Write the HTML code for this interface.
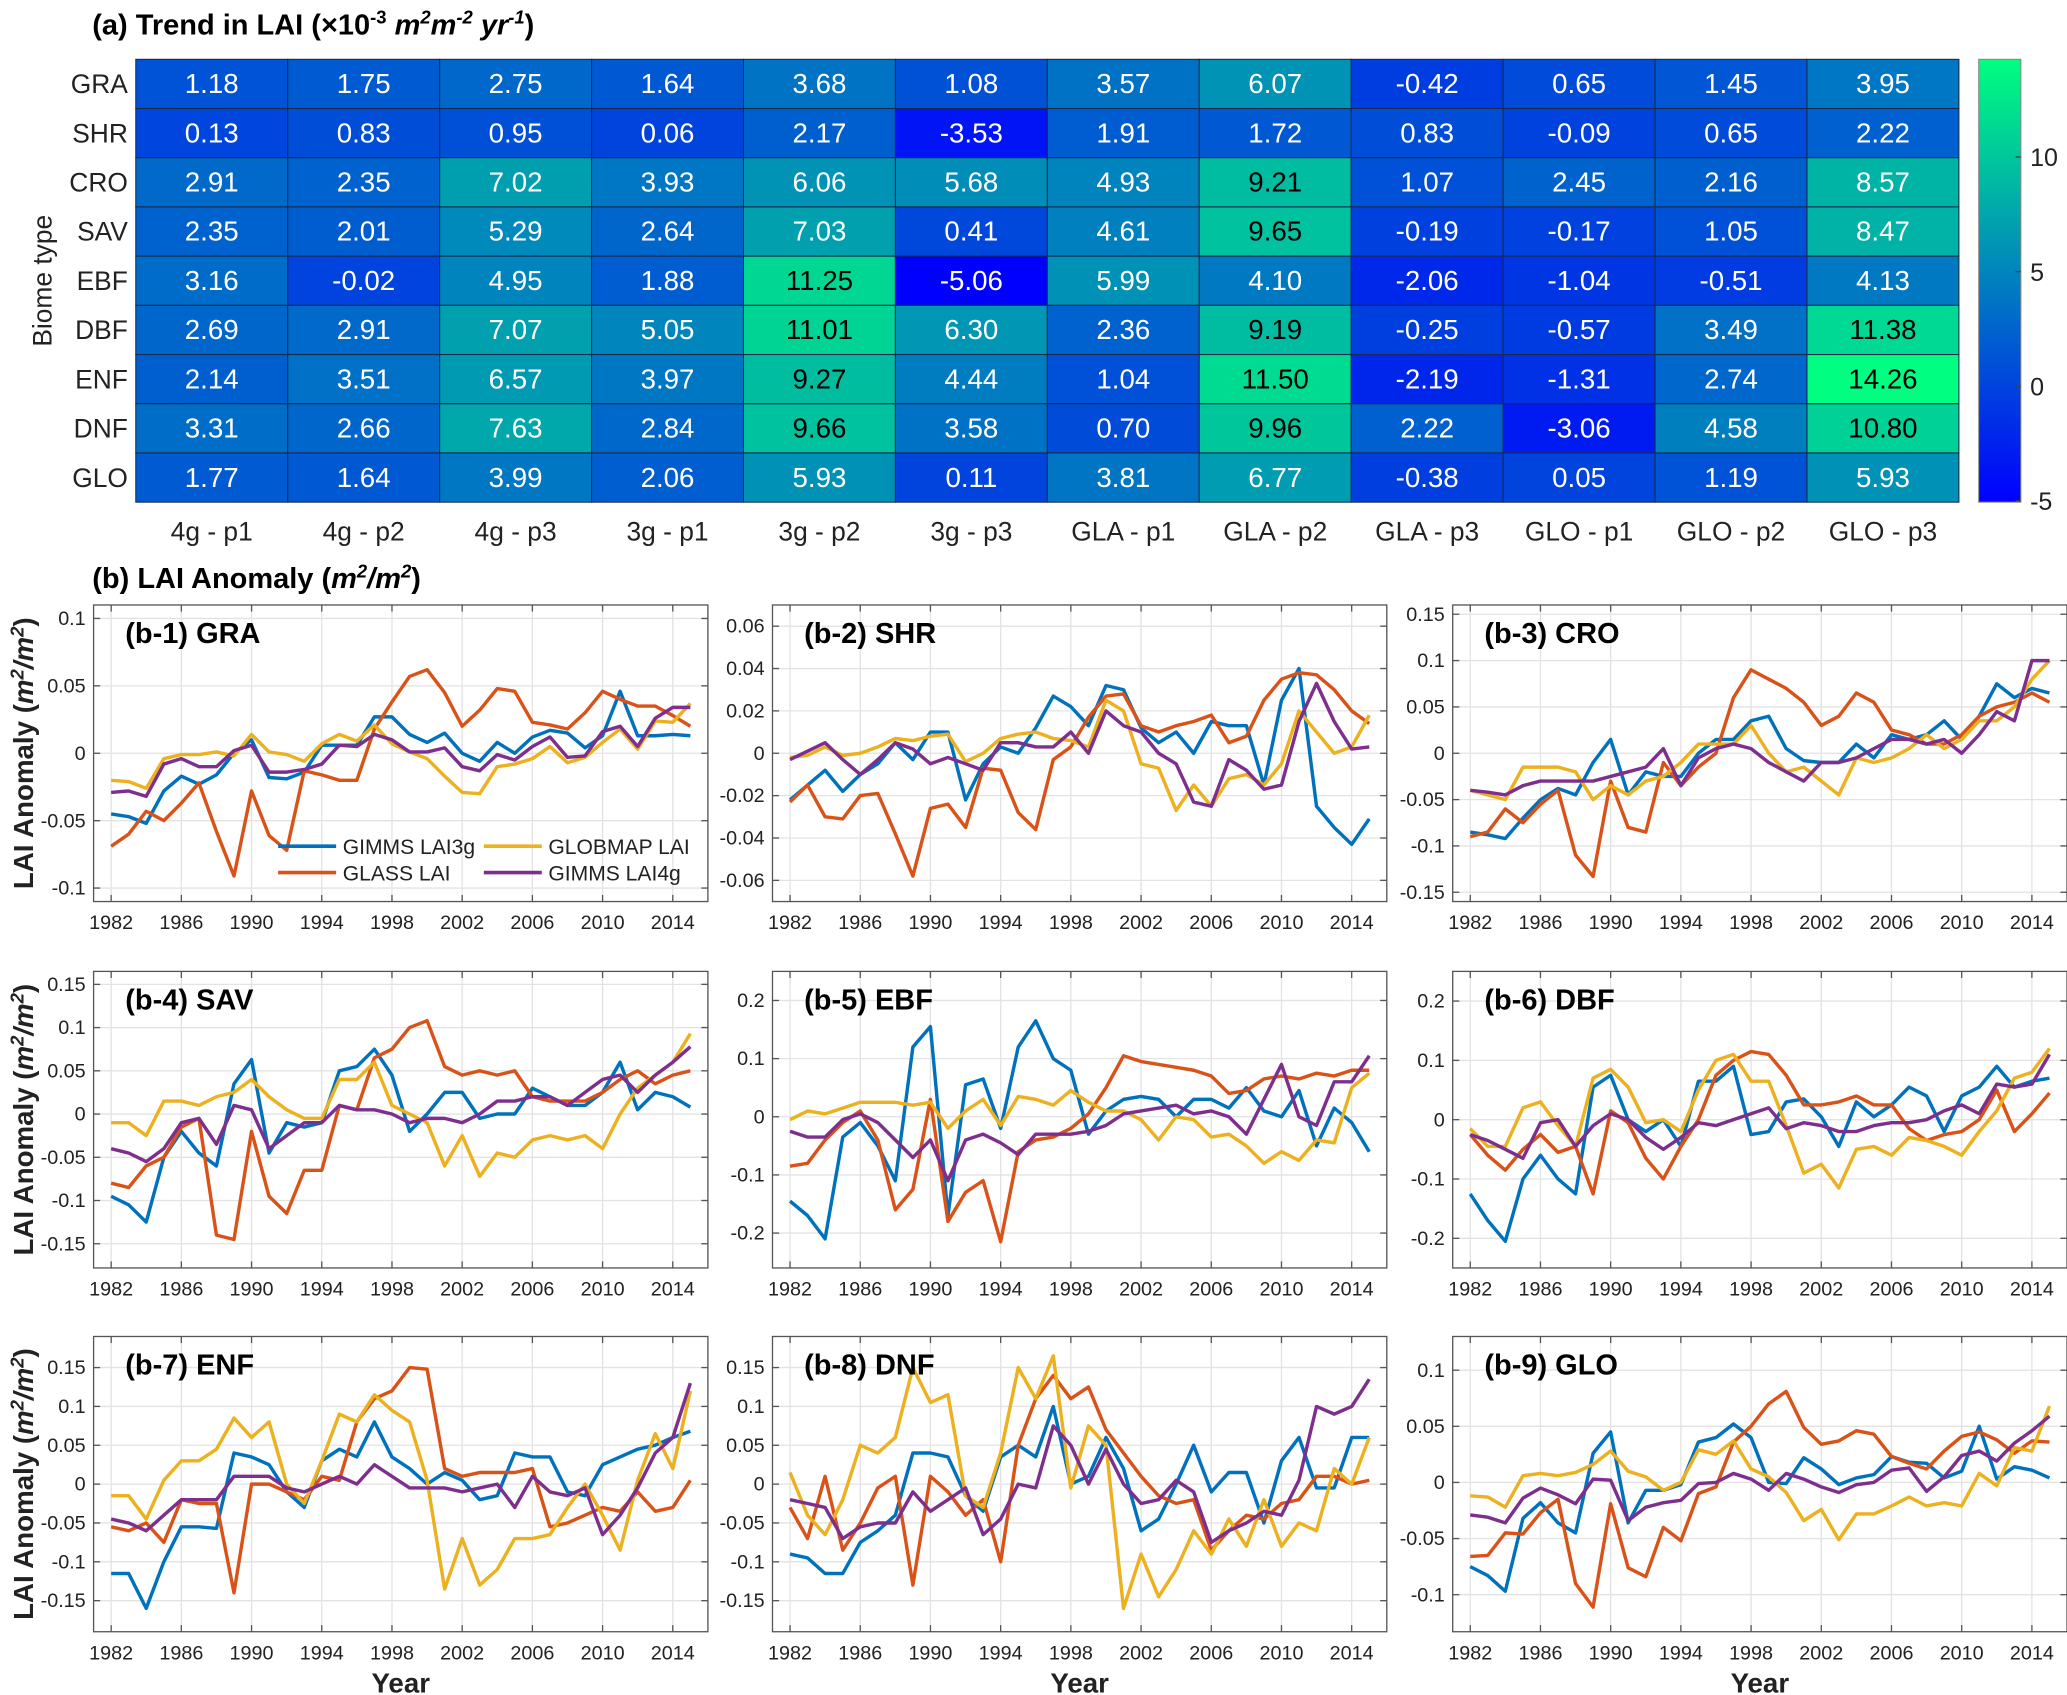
<!DOCTYPE html>
<html><head><meta charset="utf-8">
<style>
html,body{margin:0;padding:0;background:#fff;}
svg{display:block;}
text{font-family:"Liberation Sans Narrow","Liberation Sans",sans-serif;}
.b{font-family:"Liberation Sans",sans-serif;font-weight:bold;}
</style></head>
<body>
<svg id="fig" xmlns="http://www.w3.org/2000/svg" width="2067" height="1695" viewBox="0 0 1568 1286" preserveAspectRatio="none">
<text class="b" x="70" y="26" font-size="22">(a) Trend in LAI (×10<tspan dy="-8" font-size="14">-3</tspan><tspan dy="8" font-style="italic"> m</tspan><tspan dy="-8" font-size="14" font-style="italic">2</tspan><tspan dy="8" font-style="italic">m</tspan><tspan dy="-8" font-size="14" font-style="italic">-2</tspan><tspan dy="8" font-style="italic"> yr</tspan><tspan dy="-8" font-size="14" font-style="italic">-1</tspan><tspan dy="8">)</tspan></text>
<text class="b" x="70" y="446" font-size="22">(b) LAI Anomaly (<tspan font-style="italic">m</tspan><tspan dy="-8" font-size="14" font-style="italic">2</tspan><tspan dy="8" font-style="italic">/m</tspan><tspan dy="-8" font-size="14" font-style="italic">2</tspan><tspan dy="8">)</tspan></text>
<g id="heat"></g>
<g id="panels"></g>
</svg>
<script>
const NS="http://www.w3.org/2000/svg";
const rows=["GRA","SHR","CRO","SAV","EBF","DBF","ENF","DNF","GLO"];
const cols=["4g - p1","4g - p2","4g - p3","3g - p1","3g - p2","3g - p3","GLA - p1","GLA - p2","GLA - p3","GLO - p1","GLO - p2","GLO - p3"];
const trendGRA=[1.18,1.75,2.75,1.64,3.68,1.08,3.57,6.07,-0.42,0.65,1.45,3.95];
const trendSHR=[0.13,0.83,0.95,0.06,2.17,-3.53,1.91,1.72,0.83,-0.09,0.65,2.22];
const trendCRO=[2.91,2.35,7.02,3.93,6.06,5.68,4.93,9.21,1.07,2.45,2.16,8.57];
const trendSAV=[2.35,2.01,5.29,2.64,7.03,0.41,4.61,9.65,-0.19,-0.17,1.05,8.47];
const trendEBF=[3.16,-0.02,4.95,1.88,11.25,-5.06,5.99,4.10,-2.06,-1.04,-0.51,4.13];
const trendDBF=[2.69,2.91,7.07,5.05,11.01,6.30,2.36,9.19,-0.25,-0.57,3.49,11.38];
const trendENF=[2.14,3.51,6.57,3.97,9.27,4.44,1.04,11.50,-2.19,-1.31,2.74,14.26];
const trendDNF=[3.31,2.66,7.63,2.84,9.66,3.58,0.70,9.96,2.22,-3.06,4.58,10.80];
const trendGLO=[1.77,1.64,3.99,2.06,5.93,0.11,3.81,6.77,-0.38,0.05,1.19,5.93];
const trendRows=[trendGRA,trendSHR,trendCRO,trendSAV,trendEBF,trendDBF,trendENF,trendDNF,trendGLO];
const cbTicks=[-5,0,5,10];
const years=[];for(let y=1982;y<=2015;y++)years.push(y);
const yearTicks=[1982,1986,1990,1994,1998,2002,2006,2010,2014];
const seriesNames=["GIMMS LAI3g","GLASS LAI","GLOBMAP LAI","GIMMS LAI4g"];
const titles=["(b-1)  GRA","(b-2)  SHR","(b-3)  CRO","(b-4)  SAV","(b-5)  EBF","(b-6)  DBF","(b-7)  ENF","(b-8)  DNF","(b-9)  GLO"];
const ylims=[[-0.11,0.11],[-0.07,0.07],[-0.16,0.16],[-0.178,0.165],[-0.26,0.25],[-0.25,0.25],[-0.19,0.19],[-0.19,0.19],[-0.133,0.13]];
const yticks=[[-0.1,-0.05,0,0.05,0.1],[-0.06,-0.04,-0.02,0,0.02,0.04,0.06],[-0.15,-0.1,-0.05,0,0.05,0.1,0.15],[-0.15,-0.1,-0.05,0,0.05,0.1,0.15],[-0.2,-0.1,0,0.1,0.2],[-0.2,-0.1,0,0.1,0.2],[-0.15,-0.1,-0.05,0,0.05,0.1,0.15],[-0.15,-0.1,-0.05,0,0.05,0.1,0.15],[-0.1,-0.05,0,0.05,0.1]];
const gra3g=[-0.045,-0.047,-0.052,-0.028,-0.017,-0.023,-0.016,0.0,0.01,-0.018,-0.019,-0.014,0.006,0.006,0.006,0.027,0.027,0.014,0.008,0.015,0.0,-0.006,0.008,0.0,0.012,0.017,0.015,0.004,0.013,0.046,0.013,0.013,0.014,0.013];
const graGlass=[-0.069,-0.06,-0.043,-0.05,-0.037,-0.022,-0.058,-0.091,-0.028,-0.061,-0.072,-0.013,-0.016,-0.02,-0.02,0.018,0.038,0.057,0.062,0.045,0.02,0.032,0.048,0.046,0.023,0.021,0.018,0.03,0.046,0.04,0.035,0.035,0.028,0.02];
const graGlob=[-0.02,-0.021,-0.026,-0.004,-0.001,-0.001,0.001,-0.002,0.014,0.001,-0.001,-0.006,0.007,0.014,0.009,0.021,0.007,0.001,-0.004,-0.017,-0.029,-0.03,-0.01,-0.008,-0.004,0.005,-0.007,-0.003,0.008,0.018,0.003,0.024,0.023,0.037];
const gra4g=[-0.029,-0.028,-0.032,-0.008,-0.004,-0.01,-0.01,0.002,0.006,-0.014,-0.014,-0.012,-0.008,0.006,0.005,0.014,0.01,0.001,0.001,0.004,-0.01,-0.013,-0.001,-0.005,0.005,0.012,-0.003,-0.002,0.016,0.02,0.005,0.026,0.034,0.034];
const shr3g=[-0.022,-0.015,-0.008,-0.018,-0.01,-0.005,0.005,-0.003,0.01,0.01,-0.022,-0.005,0.003,0.0,0.012,0.027,0.022,0.013,0.032,0.03,0.012,0.005,0.01,0.0,0.015,0.013,0.013,-0.015,0.025,0.04,-0.025,-0.035,-0.043,-0.031];
const shrGlass=[-0.023,-0.015,-0.03,-0.031,-0.02,-0.019,-0.038,-0.058,-0.026,-0.024,-0.035,-0.007,-0.008,-0.028,-0.036,-0.003,0.003,0.017,0.027,0.028,0.013,0.01,0.013,0.015,0.018,0.005,0.008,0.025,0.035,0.038,0.037,0.03,0.02,0.014];
const shrGlob=[-0.002,-0.001,0.003,-0.001,0.0,0.003,0.007,0.006,0.008,0.009,-0.004,0.0,0.007,0.009,0.01,0.007,0.006,0.003,0.025,0.02,-0.005,-0.007,-0.027,-0.015,-0.025,-0.012,-0.01,-0.015,-0.005,0.02,0.01,0.0,0.003,0.018];
const shr4g=[-0.003,0.001,0.005,-0.003,-0.01,-0.003,0.005,0.002,-0.005,-0.002,-0.005,-0.008,0.005,0.005,0.003,0.003,0.01,0.0,0.02,0.013,0.01,0.0,-0.005,-0.023,-0.025,-0.003,-0.008,-0.017,-0.015,0.015,0.033,0.015,0.002,0.003];
const cro3g=[-0.085,-0.088,-0.092,-0.07,-0.05,-0.038,-0.045,-0.01,0.015,-0.045,-0.02,-0.025,-0.025,0.0,0.015,0.015,0.035,0.04,0.005,-0.008,-0.01,-0.01,0.01,-0.005,0.02,0.015,0.02,0.035,0.015,0.04,0.075,0.06,0.07,0.065];
const croGlass=[-0.09,-0.085,-0.06,-0.075,-0.055,-0.04,-0.11,-0.133,-0.03,-0.08,-0.085,-0.01,-0.035,-0.015,0.0,0.06,0.09,0.08,0.07,0.055,0.03,0.04,0.065,0.055,0.025,0.02,0.01,0.01,0.02,0.04,0.05,0.055,0.065,0.055];
const croGlob=[-0.04,-0.045,-0.05,-0.015,-0.015,-0.015,-0.02,-0.05,-0.035,-0.045,-0.03,-0.025,-0.01,0.01,0.01,0.01,0.03,0.0,-0.02,-0.015,-0.03,-0.045,-0.005,-0.01,-0.005,0.005,0.02,0.005,0.015,0.035,0.035,0.05,0.08,0.1];
const cro4g=[-0.04,-0.042,-0.045,-0.035,-0.03,-0.03,-0.03,-0.03,-0.025,-0.02,-0.015,0.005,-0.035,-0.005,0.005,0.01,0.005,-0.01,-0.02,-0.03,-0.01,-0.01,-0.005,0.005,0.015,0.015,0.01,0.015,0.0,0.02,0.045,0.035,0.1,0.1];
const sav3g=[-0.095,-0.105,-0.125,-0.05,-0.02,-0.045,-0.06,0.035,0.063,-0.045,-0.01,-0.015,-0.01,0.05,0.055,0.075,0.045,-0.02,0.0,0.025,0.025,-0.005,0.0,0.0,0.03,0.02,0.01,0.01,0.025,0.06,0.005,0.025,0.02,0.008];
const savGlass=[-0.08,-0.085,-0.06,-0.05,-0.015,-0.005,-0.14,-0.145,-0.02,-0.095,-0.115,-0.065,-0.065,0.01,0.005,0.065,0.075,0.1,0.108,0.055,0.045,0.05,0.045,0.05,0.02,0.015,0.015,0.015,0.025,0.04,0.05,0.035,0.045,0.05];
const savGlob=[-0.01,-0.01,-0.025,0.015,0.015,0.01,0.02,0.025,0.04,0.02,0.005,-0.005,-0.005,0.04,0.04,0.06,0.01,0.0,-0.01,-0.06,-0.025,-0.072,-0.045,-0.05,-0.03,-0.025,-0.03,-0.025,-0.04,0.0,0.03,0.045,0.06,0.093];
const sav4g=[-0.04,-0.045,-0.055,-0.04,-0.01,-0.005,-0.035,0.01,0.005,-0.04,-0.025,-0.01,-0.01,0.01,0.005,0.005,0.0,-0.01,-0.005,-0.005,-0.01,0.0,0.015,0.015,0.02,0.02,0.01,0.025,0.04,0.045,0.025,0.045,0.06,0.078];
const ebf3g=[-0.145,-0.17,-0.21,-0.035,-0.01,-0.05,-0.11,0.12,0.155,-0.17,0.055,0.065,-0.02,0.12,0.165,0.1,0.08,-0.03,0.01,0.03,0.035,0.03,0.0,0.03,0.03,0.015,0.05,0.01,0.0,0.045,-0.05,0.015,-0.01,-0.06];
const ebfGlass=[-0.085,-0.08,-0.04,-0.01,0.01,-0.04,-0.16,-0.125,0.03,-0.18,-0.13,-0.11,-0.215,-0.06,-0.04,-0.035,-0.02,0.005,0.05,0.105,0.095,0.09,0.085,0.08,0.07,0.04,0.045,0.065,0.07,0.065,0.075,0.07,0.08,0.08];
const ebfGlob=[-0.005,0.01,0.005,0.015,0.025,0.025,0.025,0.02,0.025,-0.02,0.01,0.03,-0.015,0.035,0.03,0.02,0.045,0.025,0.01,0.01,-0.005,-0.04,0.0,-0.005,-0.035,-0.03,-0.05,-0.08,-0.06,-0.075,-0.04,-0.045,0.05,0.075];
const ebf4g=[-0.025,-0.035,-0.035,-0.005,0.005,-0.01,-0.04,-0.07,-0.04,-0.11,-0.04,-0.03,-0.045,-0.065,-0.03,-0.03,-0.03,-0.025,-0.015,0.005,0.01,0.015,0.02,0.005,0.01,0.0,-0.03,0.03,0.09,0.0,-0.015,0.06,0.06,0.105];
const dbf3g=[-0.125,-0.17,-0.205,-0.1,-0.06,-0.1,-0.125,0.055,0.075,0.0,-0.02,0.0,-0.045,0.065,0.065,0.09,-0.025,-0.02,0.03,0.035,0.005,-0.045,0.03,0.005,0.025,0.055,0.04,-0.02,0.04,0.055,0.09,0.055,0.065,0.07];
const dbfGlass=[-0.025,-0.06,-0.085,-0.05,-0.025,-0.055,-0.045,-0.125,0.015,-0.005,-0.065,-0.1,-0.045,0.0,0.075,0.1,0.115,0.11,0.075,0.025,0.025,0.03,0.04,0.025,0.025,-0.015,-0.035,-0.025,-0.02,0.0,0.05,-0.02,0.01,0.045];
const dbfGlob=[-0.015,-0.045,-0.045,0.02,0.03,-0.01,-0.045,0.07,0.085,0.055,-0.005,0.0,-0.02,0.05,0.1,0.11,0.065,0.065,-0.01,-0.09,-0.075,-0.115,-0.05,-0.045,-0.06,-0.03,-0.035,-0.045,-0.06,-0.02,0.015,0.07,0.08,0.12];
const dbf4g=[-0.025,-0.035,-0.05,-0.065,-0.005,0.0,-0.045,-0.01,0.01,0.0,-0.03,-0.05,-0.03,-0.005,-0.01,0.0,0.01,0.02,-0.015,-0.005,-0.01,-0.02,-0.02,-0.01,-0.005,-0.005,0.0,0.015,0.025,0.01,0.06,0.055,0.06,0.11];
const enf3g=[-0.115,-0.115,-0.16,-0.1,-0.055,-0.055,-0.057,0.04,0.035,0.025,-0.01,-0.03,0.03,0.045,0.035,0.08,0.035,0.02,0.0,0.015,0.005,-0.02,-0.015,0.04,0.035,0.035,-0.01,-0.015,0.025,0.035,0.045,0.05,0.06,0.068];
const enfGlass=[-0.055,-0.06,-0.05,-0.075,-0.02,-0.025,-0.025,-0.14,0.0,0.0,-0.01,-0.02,0.01,0.005,0.08,0.11,0.12,0.15,0.148,0.02,0.01,0.015,0.015,0.015,0.02,-0.055,-0.05,-0.04,-0.03,-0.035,-0.01,-0.035,-0.03,0.005];
const enfGlob=[-0.015,-0.015,-0.045,0.005,0.03,0.03,0.045,0.085,0.06,0.08,0.0,-0.025,0.03,0.09,0.08,0.115,0.095,0.08,0.005,-0.135,-0.07,-0.13,-0.11,-0.07,-0.07,-0.065,-0.03,0.0,-0.04,-0.085,0.005,0.065,0.02,0.12];
const enf4g=[-0.045,-0.05,-0.06,-0.04,-0.02,-0.02,-0.02,0.01,0.01,0.01,-0.005,-0.01,0.0,0.01,0.0,0.025,0.01,-0.005,-0.005,-0.005,-0.01,-0.005,0.0,-0.03,0.01,-0.01,-0.015,-0.005,-0.065,-0.04,-0.005,0.04,0.06,0.13];
const dnf3g=[-0.09,-0.095,-0.115,-0.115,-0.075,-0.06,-0.04,0.04,0.04,0.035,-0.015,-0.035,0.035,0.05,0.035,0.1,0.0,0.01,0.06,0.02,-0.06,-0.045,0.0,0.05,-0.01,0.015,0.015,-0.05,0.03,0.06,-0.005,-0.005,0.06,0.06];
const dnfGlass=[-0.03,-0.07,0.01,-0.085,-0.05,-0.005,0.01,-0.13,0.01,-0.01,-0.04,-0.02,-0.1,0.05,0.11,0.14,0.11,0.125,0.07,0.04,0.01,-0.015,-0.025,-0.02,-0.085,-0.06,-0.04,-0.045,-0.025,-0.02,0.01,0.01,0.0,0.005];
const dnfGlob=[0.015,-0.04,-0.065,-0.02,0.05,0.04,0.06,0.15,0.105,0.115,-0.015,-0.03,0.04,0.15,0.11,0.165,-0.005,0.075,0.05,-0.16,-0.09,-0.145,-0.11,-0.06,-0.09,-0.045,-0.08,-0.02,-0.08,-0.05,-0.06,0.02,0.0,0.06];
const dnf4g=[-0.02,-0.025,-0.03,-0.07,-0.055,-0.05,-0.05,-0.01,-0.035,-0.02,-0.005,-0.065,-0.045,0.0,-0.005,0.075,0.05,0.0,0.045,0.0,-0.025,-0.02,0.005,-0.01,-0.075,-0.06,-0.05,-0.035,-0.04,0.005,0.1,0.09,0.1,0.135];
const glo3g=[-0.075,-0.083,-0.097,-0.032,-0.018,-0.036,-0.045,0.026,0.045,-0.036,-0.007,-0.007,-0.002,0.036,0.04,0.052,0.04,0.0,-0.001,0.022,0.012,-0.002,0.004,0.007,0.023,0.018,0.017,0.004,0.01,0.05,0.003,0.014,0.011,0.004];
const gloGlass=[-0.066,-0.065,-0.045,-0.046,-0.027,-0.015,-0.09,-0.111,-0.019,-0.076,-0.084,-0.04,-0.052,-0.01,-0.004,0.036,0.05,0.07,0.081,0.049,0.034,0.037,0.046,0.043,0.023,0.017,0.012,0.028,0.041,0.045,0.038,0.026,0.037,0.036];
const gloGlob=[-0.012,-0.013,-0.022,0.006,0.008,0.006,0.009,0.016,0.028,0.01,0.005,-0.007,0.0,0.029,0.025,0.037,0.012,0.005,-0.009,-0.034,-0.024,-0.051,-0.028,-0.028,-0.021,-0.013,-0.021,-0.018,-0.021,0.008,-0.003,0.031,0.028,0.068];
const glo4g=[-0.029,-0.031,-0.036,-0.014,-0.005,-0.011,-0.019,0.003,0.002,-0.034,-0.022,-0.018,-0.016,-0.001,0.0,0.008,0.003,-0.007,0.008,0.003,-0.004,-0.009,-0.002,0.0,0.011,0.013,-0.008,0.005,0.024,0.028,0.019,0.035,0.046,0.059];
const panelSeries=[[gra3g,graGlass,graGlob,gra4g],[shr3g,shrGlass,shrGlob,shr4g],[cro3g,croGlass,croGlob,cro4g],[sav3g,savGlass,savGlob,sav4g],[ebf3g,ebfGlass,ebfGlob,ebf4g],[dbf3g,dbfGlass,dbfGlob,dbf4g],[enf3g,enfGlass,enfGlob,enf4g],[dnf3g,dnfGlass,dnfGlob,dnf4g],[glo3g,gloGlass,gloGlob,glo4g]];
const colors=["#0072BD","#D95319","#EDB120","#7E2F8E"];

function el(tag,attrs,parent,txt){const e=document.createElementNS(NS,tag);for(const k in attrs)e.setAttribute(k,attrs[k]);if(txt!==undefined)e.textContent=txt;parent.appendChild(e);return e;}
const heat=document.getElementById('heat');
const HX0=103,HX1=1486,HY0=45,HY1=381;
const cw=(HX1-HX0)/cols.length, rh=(HY1-HY0)/rows.length;
const vmin=-5.06,vmax=14.26;
function winter(v){let t=(v-vmin)/(vmax-vmin);t=Math.max(0,Math.min(1,t));return `rgb(0,${Math.round(255*t)},${Math.round(255*(1-0.5*t))})`;}
const cy=v=>HY1-(v-vmin)/(vmax-vmin)*(HY1-HY0);
rows.forEach((r,i)=>{
  const lab=el('text',{x:97,y:HY0+rh*(i+0.5)+7,'text-anchor':'end','font-size':20,fill:'#222'},heat,r);
  
  
  trendRows[i].forEach((v,j)=>{
    const c=el('rect',{x:HX0+cw*j,y:HY0+rh*i,width:cw,height:rh,fill:winter(v),stroke:'#1a2a4a','stroke-width':0.8},heat);
    
    
    const t=el('text',{x:HX0+cw*(j+0.5),y:HY0+rh*(i+0.5)+7,'text-anchor':'middle','font-size':21,fill:v>=8.8?'#000':'#fff'},heat,v.toFixed(2));
    
    
  });
});
cols.forEach((c,j)=>{const t=el('text',{x:HX0+cw*(j+0.5),y:410,'text-anchor':'middle','font-size':20,fill:'#222'},heat,c);
  
  });
const bt=el('text',{x:0,y:0,'text-anchor':'middle','font-size':20,fill:'#222','font-family':'Liberation Sans, sans-serif',transform:`translate(39,${(HY0+HY1)/2}) rotate(-90)`},heat,'Biome type');


const defs=el('defs',{},heat);
const grad=el('linearGradient',{id:'cbg',x1:0,y1:1,x2:0,y2:0},defs);
for(let k=0;k<=10;k++){const v=vmin+(vmax-vmin)*k/10;el('stop',{offset:k/10,'stop-color':winter(v)},grad);}
const cb=el('rect',{x:1501,y:HY0,width:32,height:HY1-HY0,fill:'url(#cbg)',stroke:'#888','stroke-width':0.8},heat);


cbTicks.forEach(v=>{el('line',{x1:1529,x2:1533,y1:cy(v),y2:cy(v),stroke:'#444'},heat);
  const t=el('text',{x:1540,y:cy(v)+7,'font-size':19,fill:'#222'},heat,String(v));
  
  });

const panels=document.getElementById('panels');
const colX=[[71,537],[586,1052],[1102,1568]];
const rowY=[[459,684],[737,962],[1014,1238]];
const xmin=1981,xmax=2016;
for(let p=0;p<9;p++){
  const [x0,x1]=colX[p%3],[y0,y1]=rowY[Math.floor(p/3)];
  const g=el('g',{},panels);
  
  
  const X=v=>x0+(v-xmin)/(xmax-xmin)*(x1-x0);
  const [lo,hi]=ylims[p];
  const Y=v=>y1-(v-lo)/(hi-lo)*(y1-y0);
  el('rect',{x:x0,y:y0,width:x1-x0,height:y1-y0,fill:'#fff'},g);
  yearTicks.forEach(t=>{el('line',{x1:X(t),x2:X(t),y1:y0,y2:y1,stroke:'#e3e3e3','stroke-width':1},g);});
  yticks[p].forEach(t=>{el('line',{x1:x0,x2:x1,y1:Y(t),y2:Y(t),stroke:'#e3e3e3','stroke-width':1},g);});
  const clipId='clip'+p;
  const cp=el('clipPath',{id:clipId},g);el('rect',{x:x0,y:y0,width:x1-x0,height:y1-y0},cp);
  const lg=el('g',{'clip-path':`url(#${clipId})`},g);
  panelSeries[p].forEach((s,k)=>{
    const d=s.map((v,i)=>(i?'L':'M')+X(years[i]).toFixed(1)+','+Y(v).toFixed(1)).join('');
    const path=el('path',{d:d,fill:'none',stroke:colors[k],'stroke-width':2.6,'stroke-linejoin':'round'},lg);
    
    
  });
  el('rect',{x:x0,y:y0,width:x1-x0,height:y1-y0,fill:'none',stroke:'#555','stroke-width':1},g);
  yearTicks.forEach(t=>{el('line',{x1:X(t),x2:X(t),y1:y1,y2:y1-5,stroke:'#555'},g);el('line',{x1:X(t),x2:X(t),y1:y0,y2:y0+5,stroke:'#555'},g);
    const tl=el('text',{x:X(t),y:y1+21,'text-anchor':'middle','font-size':15,fill:'#222'},g,String(t));
    
    });
  yticks[p].forEach(t=>{el('line',{x1:x0,x2:x0+5,y1:Y(t),y2:Y(t),stroke:'#555'},g);el('line',{x1:x1,x2:x1-5,y1:Y(t),y2:Y(t),stroke:'#555'},g);
    const tl=el('text',{x:x0-6,y:Y(t)+5,'text-anchor':'end','font-size':15,fill:'#222'},g,String(t));
    
    });
  const tt=el('text',{x:x0+24,y:y0+29,'font-size':22,'font-weight':'bold',fill:'#000','font-family':'Liberation Sans Narrow, Liberation Sans, sans-serif'},g,titles[p]);
  
  
  if(p%3===0){
    const yl=el('text',{x:0,y:0,'text-anchor':'middle','font-size':21,'font-weight':'bold',fill:'#222','font-family':'Liberation Sans, sans-serif',transform:`translate(25,${(y0+y1)/2}) rotate(-90)`},g);
    
    
    yl.innerHTML='LAI Anomaly (<tspan font-style="italic">m</tspan><tspan dy="-7" font-size="14" font-style="italic">2</tspan><tspan dy="7" font-style="italic">/m</tspan><tspan dy="-7" font-size="14" font-style="italic">2</tspan><tspan dy="7">)</tspan>';
  }
  if(p>=6){
    const xl=el('text',{x:(x0+x1)/2,y:1284,'text-anchor':'middle','font-size':21,'font-weight':'bold',fill:'#222','font-family':'Liberation Sans, sans-serif'},g,'Year');
    
    
  }
  if(p===0){
    const leg=el('g',{},g);
    
    
    const pos=[[211,642],[211,662],[367,642],[367,662]];
    [0,1,2,3].forEach(k=>{const [lx,ly]=pos[k];
      el('line',{x1:lx,x2:lx+44,y1:ly,y2:ly,stroke:colors[k],'stroke-width':2.8},leg);
      const lt=el('text',{x:lx+49,y:ly+6,'font-size':16,fill:'#222'},leg,seriesNames[k]);
      
      });
  }
}
</script>
</body></html>
